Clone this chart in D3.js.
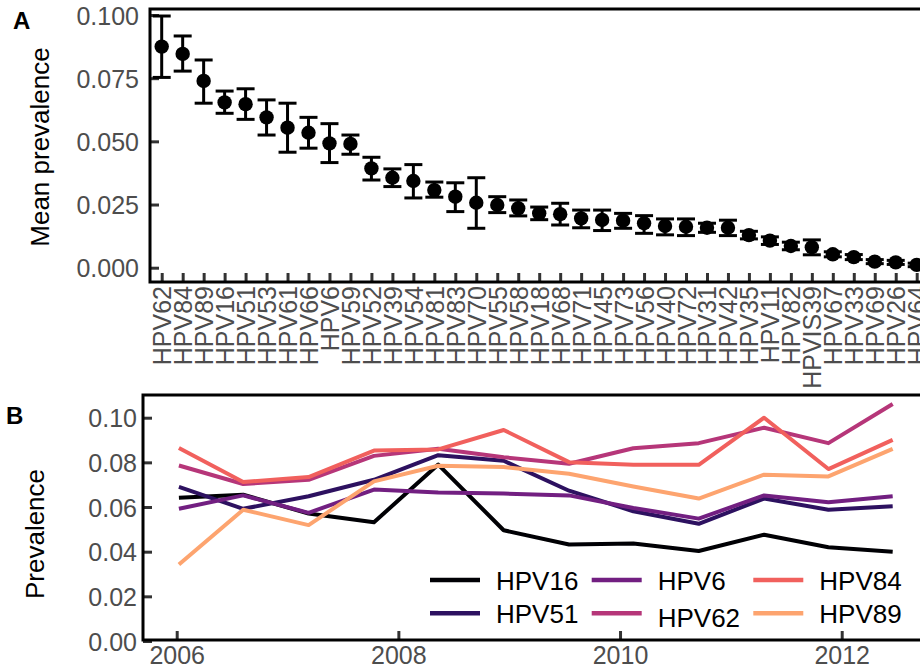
<!DOCTYPE html>
<html>
<head>
<meta charset="utf-8">
<script src="https://cdn.jsdelivr.net/npm/d3@7"></script>
<style>
  html, body { margin: 0; padding: 0; background: #fff; }
  svg { display: block; font-family: "Liberation Sans", Arial, Helvetica, sans-serif; }
</style>
</head>
<body>
<svg id="chart" width="920" height="669"></svg>
<script>
// ---------- Panel A data ----------
const categories = ["HPV62","HPV84","HPV89","HPV16","HPV51","HPV53","HPV61","HPV66","HPV6","HPV59",
  "HPV52","HPV39","HPV54","HPV81","HPV83","HPV70","HPV55","HPV58","HPV18","HPV68",
  "HPV71","HPV45","HPV73","HPV56","HPV40","HPV72","HPV31","HPV42","HPV35","HPV11",
  "HPV82","HPVIS39","HPV67","HPV33","HPV69","HPV26","HPV64"];
const meanPrev = [0.0875,0.0846,0.0739,0.0654,0.0647,0.0595,0.0554,0.0534,0.0492,0.0490,
  0.0393,0.0356,0.0343,0.0307,0.0281,0.0257,0.0248,0.0235,0.0215,0.0212,
  0.0195,0.0189,0.0186,0.0176,0.0165,0.0162,0.0158,0.0158,0.0129,0.0107,
  0.0086,0.0081,0.0053,0.0042,0.0024,0.0021,0.0011];
const lowerCI = [0.0753,0.0778,0.0651,0.0611,0.0587,0.0525,0.0457,0.0473,0.0416,0.0449,
  0.0347,0.0321,0.0276,0.0279,0.0222,0.0156,0.0218,0.0205,0.0190,0.0169,
  0.0158,0.0147,0.0156,0.0136,0.0130,0.0127,0.0140,0.0127,0.0114,0.0092,
  0.0071,0.0051,0.0043,0.0032,0.0016,0.0013,0.0004];
const upperCI = [0.0996,0.0917,0.0822,0.0699,0.0708,0.0664,0.0651,0.0595,0.0570,0.0525,
  0.0437,0.0391,0.0408,0.0339,0.0336,0.0356,0.0281,0.0268,0.0240,0.0255,
  0.0228,0.0228,0.0215,0.0206,0.0193,0.0193,0.0176,0.0188,0.0144,0.0122,
  0.0101,0.0110,0.0063,0.0052,0.0032,0.0029,0.0018];
const yTicksA = [0, 0.025, 0.05, 0.075, 0.1];

// ---------- Panel B data ----------
const years = [2006.02,2006.60,2007.19,2007.78,2008.36,2008.95,2009.54,2010.12,2010.71,2011.30,2011.88,2012.46];
const seriesNames = ["HPV16","HPV51","HPV6","HPV62","HPV84","HPV89"];
const seriesColors = ["#000004","#2D1160","#721F81","#B63679","#F1605D","#FDA46F"];
const HPV16 = [0.0641,0.0655,0.0571,0.0532,0.0790,0.0496,0.0432,0.0437,0.0403,0.0476,0.0420,0.0400];
const HPV51 = [0.0690,0.0592,0.0648,0.0722,0.0832,0.0807,0.0673,0.0581,0.0525,0.0638,0.0588,0.0603];
const HPV6  = [0.0592,0.0652,0.0574,0.0678,0.0665,0.0660,0.0652,0.0596,0.0548,0.0652,0.0621,0.0648];
const HPV62 = [0.0786,0.0703,0.0722,0.0829,0.0861,0.0823,0.0794,0.0863,0.0886,0.0955,0.0886,0.1061];
const HPV84 = [0.0864,0.0712,0.0734,0.0853,0.0858,0.0945,0.0801,0.0789,0.0789,0.1000,0.0770,0.0901];
const HPV89 = [0.0343,0.0588,0.0519,0.0715,0.0785,0.0779,0.0749,0.0692,0.0638,0.0745,0.0737,0.0860];
const seriesValues = [HPV16, HPV51, HPV6, HPV62, HPV84, HPV89];
const yTicksB = [0, 0.02, 0.04, 0.06, 0.08, 0.10];
const xTicksB = [2006, 2008, 2010, 2012];

const svg = d3.select("#chart");
const tickGrey = "#333333", labelGrey = "#4D4D4D";

// ================= Panel A =================
const A = { left: 150, top: 9, bottom: 282 };
const xA = d3.scalePoint().domain(categories).range([161.7, 916.7]);
const yA = d3.scaleLinear().domain([0, 0.1]).range([267.7, 15]);

const gyA = svg.append("g").attr("transform", `translate(${A.left},0)`)
  .call(d3.axisLeft(yA).tickValues(yTicksA).tickFormat(d3.format(".3f")).tickSize(-9).tickPadding(11));
gyA.select(".domain").remove();
gyA.selectAll(".tick line").attr("stroke", tickGrey).attr("stroke-width", 3);
gyA.selectAll(".tick text").attr("fill", labelGrey).style("font-size", "25px").attr("dy", "0.36em");

const gxA = svg.append("g").attr("transform", `translate(0,${A.bottom})`)
  .call(d3.axisBottom(xA).tickSize(-9).tickPadding(4));
gxA.select(".domain").remove();
gxA.selectAll(".tick line").attr("stroke", tickGrey).attr("stroke-width", 3);
gxA.selectAll(".tick text")
  .attr("fill", labelGrey).style("font-size", "25px")
  .attr("transform", "rotate(-90)")
  .attr("text-anchor", "end")
  .attr("x", -4).attr("y", 0).attr("dy", "0.36em");

const capW = 18;
const gA = svg.append("g");
categories.forEach((c, i) => {
  const x = xA(c);
  gA.append("line").attr("x1", x).attr("x2", x).attr("y1", yA(lowerCI[i])).attr("y2", yA(upperCI[i]))
    .attr("stroke", "#000").attr("stroke-width", 3);
  [lowerCI[i], upperCI[i]].forEach(v => {
    gA.append("line").attr("x1", x - capW / 2).attr("x2", x + capW / 2).attr("y1", yA(v)).attr("y2", yA(v))
      .attr("stroke", "#000").attr("stroke-width", 3);
  });
  gA.append("circle").attr("cx", x).attr("cy", yA(meanPrev[i])).attr("r", 7.2).attr("fill", "#000");
});

svg.append("rect").attr("x", A.left).attr("y", A.top).attr("width", 820).attr("height", A.bottom - A.top)
  .attr("fill", "none").attr("stroke", "#000").attr("stroke-width", 3);

svg.append("text").attr("x", 13).attr("y", 29).text("A")
  .style("font-size", "24px").style("font-weight", "bold").attr("fill", "#000");
svg.append("text").attr("transform", "translate(49,147) rotate(-90)").attr("text-anchor", "middle")
  .style("font-size", "26px").attr("fill", "#000").text("Mean prevalence");

// ================= Panel B =================
const B = { left: 143, top: 395, bottom: 640 };
const xB = d3.scaleLinear().domain([2006, 2012]).range([176.7, 841.7]);
const yB = d3.scaleLinear().domain([0, 0.1]).range([641, 417.7]);

const gyB = svg.append("g").attr("transform", `translate(${B.left},0)`)
  .call(d3.axisLeft(yB).tickValues(yTicksB).tickFormat(d3.format(".2f")).tickSize(-9).tickPadding(6));
gyB.select(".domain").remove();
gyB.selectAll(".tick line").attr("stroke", tickGrey).attr("stroke-width", 3);
gyB.selectAll(".tick text").attr("fill", labelGrey).style("font-size", "25px").attr("dy", "0.36em");

const gxB = svg.append("g").attr("transform", `translate(0,${B.bottom})`)
  .call(d3.axisBottom(xB).tickValues(xTicksB).tickFormat(d3.format("d")).tickSize(-9).tickPadding(6));
gxB.select(".domain").remove();
gxB.selectAll(".tick line").attr("stroke", tickGrey).attr("stroke-width", 3);
gxB.selectAll(".tick text").attr("fill", labelGrey).style("font-size", "25px").attr("dy", "0.72em");

const line = d3.line().x((d, i) => xB(years[i])).y(d => yB(d));
seriesValues.forEach((vals, k) => {
  svg.append("path").attr("d", line(vals)).attr("fill", "none")
    .attr("stroke", seriesColors[k]).attr("stroke-width", 4).attr("stroke-linejoin", "round");
});

svg.append("rect").attr("x", B.left).attr("y", B.top).attr("width", 820).attr("height", B.bottom - B.top)
  .attr("fill", "none").attr("stroke", "#000").attr("stroke-width", 3);

svg.append("text").attr("x", 6).attr("y", 424).text("B")
  .style("font-size", "24px").style("font-weight", "bold").attr("fill", "#000");
svg.append("text").attr("transform", "translate(44,534) rotate(-90)").attr("text-anchor", "middle")
  .style("font-size", "26px").attr("fill", "#000").text("Prevalence");

const legColX = [430, 591.7, 753.3];
const legRowY = [580, 613.3];
const legBaseShift = [0, 0, 0, 4, 0, 0];
seriesNames.forEach((name, k) => {
  const col = Math.floor(k / 2), row = k % 2;
  const x0 = legColX[col], y0 = legRowY[row];
  svg.append("line").attr("x1", x0).attr("x2", x0 + 50).attr("y1", y0).attr("y2", y0)
    .attr("stroke", seriesColors[k]).attr("stroke-width", 4.5);
  svg.append("text").attr("x", x0 + 66).attr("y", y0 + 9.5 + legBaseShift[k])
    .style("font-size", "26px").attr("fill", "#000").text(name);
});
</script>
</body>
</html>
